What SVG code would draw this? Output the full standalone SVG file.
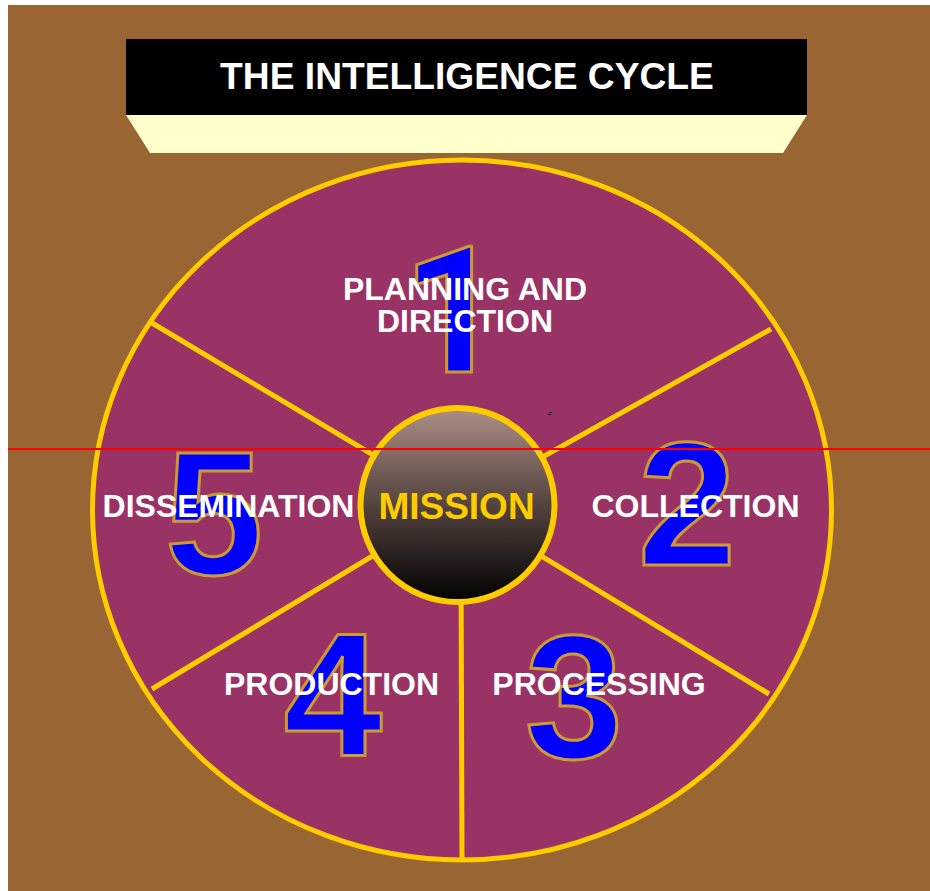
<svg xmlns="http://www.w3.org/2000/svg" width="930" height="891" viewBox="0 0 930 891">
  <defs>
    <linearGradient id="hubFill" x1="0" y1="0" x2="0" y2="1">
      <stop offset="0" stop-color="#AC8F86"/>
      <stop offset="0.5" stop-color="#54433F"/>
      <stop offset="1" stop-color="#000000"/>
    </linearGradient>
    <style>
      .label { font-family: "Liberation Sans", Arial, sans-serif; font-weight: bold; font-size: 32px; fill: #FFFFFF; text-anchor: middle; }
      .num { font-family: "Liberation Sans", Arial, sans-serif; font-weight: bold; font-size: 177px; fill: #0000FF; stroke: #CC9933; stroke-width: 3; text-anchor: middle; }
      .num-one { font-family: Roboto, "Liberation Sans", Arial, sans-serif; }
      .spoke { stroke: #FFCC00; stroke-width: 5; fill: none; }
    </style>
  </defs>

  <!-- page background -->
  <rect x="0" y="0" width="930" height="891" fill="#FFFFFF"/>
  <rect x="8" y="5" width="922" height="886" fill="#996633"/>

  <!-- title banner -->
  <g id="title">
    <polygon points="126,115 807,115 783,153 150,153" fill="#FFFFCC"/>
    <rect x="126" y="39" width="681" height="76" fill="#000000"/>
    <text x="467" y="89" font-family="'Liberation Sans', Arial, sans-serif" font-weight="bold" font-size="37.2" fill="#FFFFFF" text-anchor="middle">THE INTELLIGENCE CYCLE</text>
  </g>

  <!-- outer wheel -->
  <g id="wheel">
    <ellipse cx="462" cy="510" rx="369.5" ry="350" fill="#993366"/>
  </g>

  <!-- spokes dividing the five stages -->
  <g id="connectors">
    <line class="spoke" x1="457" y1="505" x2="152" y2="323"/>
    <line class="spoke" x1="457" y1="505" x2="771" y2="329"/>
    <line class="spoke" x1="457" y1="505" x2="152" y2="689"/>
    <line class="spoke" x1="457" y1="505" x2="769" y2="694"/>
    <line class="spoke" x1="461" y1="560" x2="462" y2="859"/>
  </g>

  <ellipse cx="462" cy="510" rx="369.5" ry="350" fill="none" stroke="#FFCC00" stroke-width="5"/>

  <!-- stage 1 -->
  <g id="planning">
    <text class="num num-one" x="453" y="372">1</text>
    <text class="label" x="465" y="300">PLANNING AND</text>
    <text class="label" x="465" y="332">DIRECTION</text>
  </g>

  <!-- stage 2 -->
  <g id="collection">
    <text class="num" x="687" y="565">2</text>
    <text class="label" x="695.5" y="517">COLLECTION</text>
  </g>

  <!-- stage 3 -->
  <g id="processing">
    <text class="num" x="574" y="758">3</text>
    <text class="label" x="599" y="695">PROCESSING</text>
  </g>

  <!-- stage 4 -->
  <g id="production">
    <text class="num" x="333" y="756">4</text>
    <text class="label" x="331.5" y="695">PRODUCTION</text>
  </g>

  <!-- stage 5 -->
  <g id="dissemination">
    <text class="num" x="214" y="574">5</text>
    <text class="label" x="228.5" y="517">DISSEMINATION</text>
  </g>

  <!-- central hub -->
  <g id="mission">
    <circle cx="457.5" cy="505" r="97" fill="url(#hubFill)" stroke="#FFCC00" stroke-width="6"/>
    <text x="456.5" y="519" font-family="'Liberation Sans', Arial, sans-serif" font-weight="bold" font-size="37" fill="#FFCC00" text-anchor="middle">MISSION</text>
  </g>

  <!-- small stray mark -->
  <path d="M549 412.5 h3 M548 414.5 h3" stroke="#1a0d12" stroke-width="1"/>

  <!-- horizontal guide line -->
  <line x1="8" y1="449" x2="930" y2="449" stroke="#FF0000" stroke-width="2"/>
</svg>
